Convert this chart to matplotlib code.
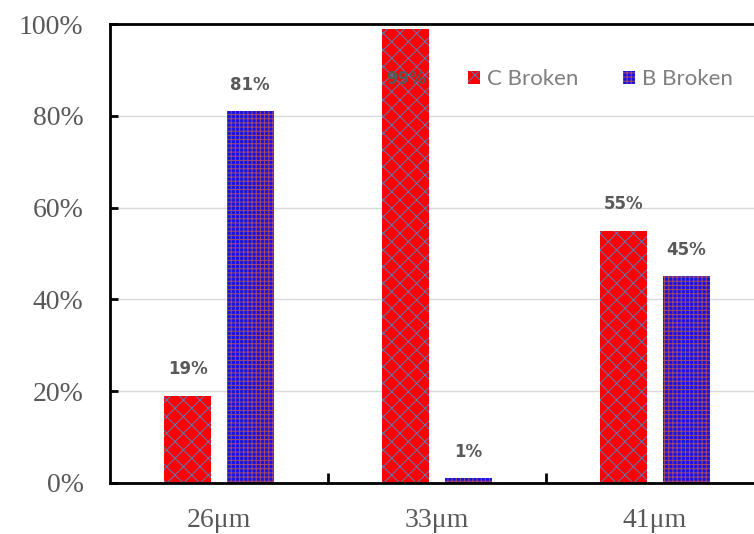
import matplotlib.pyplot as plt
import numpy as np

plt.rcParams['hatch.linewidth'] = 0.7

categories = ['26μm', '33μm', '41μm']
c_broken = [19, 99, 55]
b_broken = [81, 1, 45]
series_names = ['C Broken', 'B Broken']

fig = plt.figure(figsize=(7.54, 5.34), dpi=100)
ax = fig.add_axes([110 / 754, 51 / 534, 654 / 754, 459 / 534])

x = np.arange(len(categories))
w = 0.216
off = 0.143

bc = ax.bar(x - off, c_broken, w, color='#ff0000', edgecolor='#5b7bb5',
            hatch='xx', linewidth=0, label=series_names[0], zorder=2)
bb = ax.bar(x + off, b_broken, w, color='#1414e6', edgecolor='#a8486a',
            hatch='++++', linewidth=0, label=series_names[1], zorder=2)

for bars, vals in ((bc, c_broken), (bb, b_broken)):
    for rect, v in zip(bars, vals):
        cx = rect.get_x() + rect.get_width() / 2
        if v > 94:
            ax.text(cx, 88, f'{v}%', ha='center', va='center', fontsize=12,
                    fontweight='bold', color='#595959', zorder=3)
        else:
            ax.annotate(f'{v}%', (cx, v), xytext=(0, 19), textcoords='offset points',
                        ha='center', va='center', fontsize=12, fontweight='bold',
                        color='#595959', zorder=3)

ax.set_ylim(0, 100)
ax.set_xlim(-0.5, 2.5)
ax.set_yticks(np.arange(0, 101, 20))
ax.set_yticklabels([f'{v}%' for v in range(0, 101, 20)],
                   fontfamily='Liberation Serif', fontsize=20, color='#595959')
ax.yaxis.grid(True, color='#d9d9d9', linewidth=1, zorder=0)
ax.set_axisbelow(True)
ax.tick_params(axis='y', direction='in', length=6, width=2, pad=19)

ax.set_xticks([0.5, 1.5])
ax.set_xticklabels([])
ax.set_xticks(x, minor=True)
ax.set_xticklabels(categories, minor=True, fontfamily='Liberation Serif',
                   fontsize=20, color='#595959')
ax.tick_params(axis='x', which='major', direction='in', length=7, width=2)
ax.tick_params(axis='x', which='minor', length=0, pad=18)

for s in ax.spines.values():
    s.set_linewidth(2)
    s.set_color('black')

leg = ax.legend(loc='upper left', bbox_to_anchor=(0.517, 0.945), ncol=2, frameon=False,
                prop={'family': 'Lato', 'size': 16}, handlelength=0.55, handleheight=0.55,
                handletextpad=0.3, columnspacing=2.0)
for t in leg.get_texts():
    t.set_color('#7f7f7f')

fig.savefig('out.png', dpi=100)
